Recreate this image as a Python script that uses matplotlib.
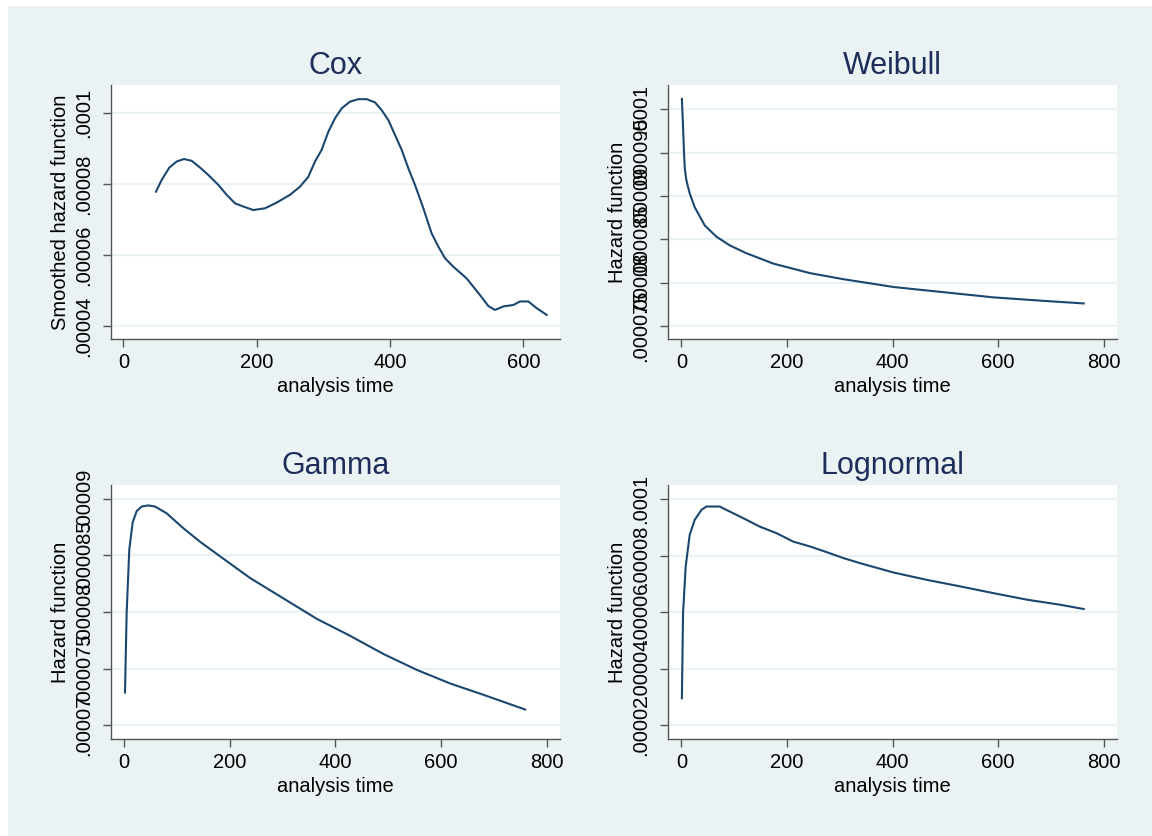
import matplotlib
matplotlib.use("Agg")
import matplotlib.pyplot as plt
from matplotlib.patches import Rectangle

plt.rcParams['font.family'] = ['Liberation Sans', 'DejaVu Sans']

# --- data ---
cox_t = [49, 57.5, 69, 80, 91, 102.5, 115, 127.5, 142.5, 155, 167.5, 180, 195, 212.5,
         230, 250, 265, 277.5, 287.5, 297.5, 307.5, 317.5, 327.5, 340, 352.5, 365,
         377.5, 387.5, 397.5, 407.5, 417.5, 427.5, 437.5, 450, 462.5, 472.5, 482.5,
         495, 515, 535, 547.5, 557.5, 570, 585, 595, 607.5, 620, 635]
cox_h = [.0000779, .0000812, .0000847, .0000864, .0000871, .0000866, .0000847, .0000826,
         .0000798, .0000770, .0000746, .0000737, .0000727, .0000732, .0000748, .0000770,
         .0000793, .0000821, .0000864, .0000897, .0000948, .0000986, .0001014, .0001033,
         .0001040, .0001040, .0001031, .0001009, .0000981, .0000939, .0000897, .0000845,
         .0000798, .0000732, .0000661, .0000624, .0000591, .0000567, .0000534, .0000487,
         .0000456, .0000445, .0000455, .0000459, .0000469, .0000469, .0000450, .0000431]

weib_t = [1, 2.5, 3.5, 5, 6.5, 9.5, 15.8, 25.3, 44.3, 66.4, 91.7, 123, 174, 243.5,
          306.7, 401.6, 496.4, 591.3, 686, 762]
weib_h = [.0001012, .0000990, .0000975, .0000950, .0000932, .0000918, .0000903, .0000887,
          .0000866, .0000853, .0000843, .0000834, .0000822, .0000811, .0000804, .0000795,
          .0000789, .0000783, .0000779, .0000776]

gam_t = [1.9, 5, 10, 16.4, 24, 33.4, 46, 58.7, 80.8, 112, 143.8, 188, 238.5, 301.6,
         364.7, 427.8, 490.8, 553.9, 617, 680, 759]
gam_h = [.0000729, .0000799, .0000855, .0000879, .0000889, .0000893, .0000894, .0000893,
         .0000887, .0000874, .0000862, .0000847, .0000830, .0000812, .0000794, .0000779,
         .0000763, .0000749, .0000737, .0000727, .0000714]

logn_t = [1, 3.2, 8.2, 15.8, 25.3, 38, 47.4, 72.7, 85.4, 117, 148.6, 180, 212, 243.5,
          275, 306.7, 338.3, 401.6, 464.8, 528, 591.3, 654.5, 717.8, 762]
logn_h = [.0000296, .0000596, .0000761, .0000873, .0000926, .0000961, .0000973, .0000973,
          .0000961, .0000932, .0000902, .0000879, .0000849, .0000832, .0000812, .0000791,
          .0000773, .0000740, .0000714, .0000691, .0000667, .0000644, .0000626, .0000611]

cox_yt = [.00004, .00006, .00008, .0001]
cox_yl = ['.00004', '.00006', '.00008', '.0001']
weib_yt = [.000075, .00008, .000085, .00009, .000095, .0001]
weib_yl = ['.000075', '.00008', '.000085', '.00009', '.000095', '.0001']
gam_yt = [.00007, .000075, .00008, .000085, .00009]
gam_yl = ['.00007', '.000075', '.00008', '.000085', '.00009']
logn_yt = [.00002, .00004, .00006, .00008, .0001]
logn_yl = ['.00002', '.00004', '.00006', '.00008', '.0001']

bg = '#eaf2f3'
navy = '#1a476f'

fig = plt.figure(figsize=(11.52, 8.36), dpi=100, facecolor=bg)
# thin white border on top / left as in the screenshot
fig.patches.append(Rectangle((0, 1 - 5 / 836), 1, 5 / 836, transform=fig.transFigure,
                             color='white', zorder=-1))
fig.patches.append(Rectangle((0, 0), 7 / 1152, 1, transform=fig.transFigure,
                             color='white', zorder=-1))

W, H = 1152, 836


def rect(l, r, t, b):
    return [l / W, 1 - b / H, (r - l) / W, (b - t) / H]


panels = [
    ('Cox', rect(111, 560, 85, 339), cox_t, cox_h, [0, 200, 400, 600], (-18.5, 655),
     cox_yt, cox_yl, (.0000363, .000108), 'Smoothed hazard function'),
    ('Weibull', rect(668, 1117, 85, 339), weib_t, weib_h, [0, 200, 400, 600, 800], (-25.3, 825),
     weib_yt, weib_yl, (.0000735, .0001028), 'Hazard function'),
    ('Gamma', rect(111, 560, 485, 739), gam_t, gam_h, [0, 200, 400, 600, 800], (-24.6, 825),
     gam_yt, gam_yl, (.0000688, .0000912), 'Hazard function'),
    ('Lognormal', rect(668, 1117, 485, 739), logn_t, logn_h, [0, 200, 400, 600, 800], (-25.3, 825),
     logn_yt, logn_yl, (.0000152, .0001049), 'Hazard function'),
]

for title, r, t, h, xt, xlim, yt, yl, ylim, ylab in panels:
    ax = fig.add_axes(r)
    ax.set_facecolor('white')
    ax.plot(t, h, color=navy, lw=1.5)
    ax.set_xlim(*xlim)
    ax.set_ylim(*ylim)
    ax.set_xticks(xt)
    ax.set_yticks(yt)
    ax.set_yticklabels(yl, rotation=90, va='center')
    ax.grid(axis='y', color=bg, lw=1.6)
    ax.set_axisbelow(True)
    for s in ['top', 'right']:
        ax.spines[s].set_visible(False)
    for s in ['left', 'bottom']:
        ax.spines[s].set_color('#555555')
        ax.spines[s].set_linewidth(1.0)
    ax.tick_params(axis='x', length=6, width=1, color='#555555', labelsize=14.5, pad=4)
    ax.tick_params(axis='y', length=6, width=1, color='#555555', labelsize=14.5, pad=7)
    ax.set_xlabel('analysis time', fontsize=14.5, labelpad=4)
    ax.set_ylabel(ylab, fontsize=14.5, labelpad=3)
    ax.set_title(title, fontsize=22, color='#1e2d5a', pad=8)

fig.savefig('out.png', dpi=100, facecolor=bg)
